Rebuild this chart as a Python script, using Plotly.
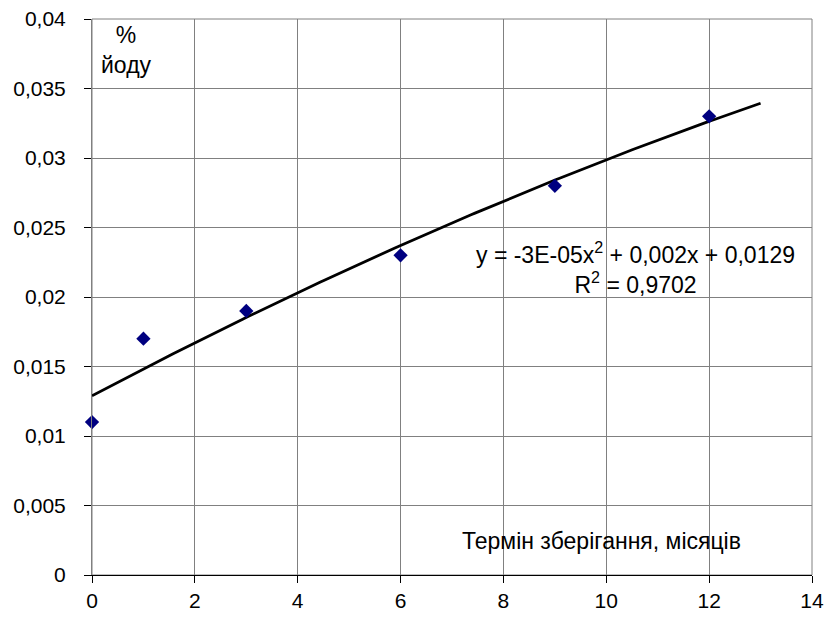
import numpy as np
import plotly.graph_objects as go

months = [0, 1, 3, 6, 9, 12]
iodine = [0.011, 0.017, 0.019, 0.023, 0.028, 0.033]

y_tickvals = [0, 0.005, 0.01, 0.015, 0.02, 0.025, 0.03, 0.035, 0.04]
y_ticktext = ["0", "0,005", "0,01", "0,015", "0,02", "0,025", "0,03", "0,035", "0,04"]
x_tickvals = [0, 2, 4, 6, 8, 10, 12, 14]

# quadratic trendline fitted to the data
coef = np.polyfit(months, iodine, 2)
xt = np.linspace(0, 13, 200)
yt = np.polyval(coef, xt)

fig = go.Figure()
fig.add_trace(go.Scatter(x=xt, y=yt, mode="lines",
                         line=dict(color="black", width=2.8), hoverinfo="skip"))
fig.add_trace(go.Scatter(x=months, y=iodine, mode="markers", cliponaxis=False,
                         marker=dict(symbol="diamond", color="#000080", size=11)))

tfont = dict(family="Liberation Sans, Arial, sans-serif", size=21, color="black")
afont = dict(family="Liberation Sans, Arial, sans-serif", size=23, color="black")

fig.update_layout(
    template="none",
    width=825, height=618,
    margin=dict(l=92, r=13, t=19, b=43, autoexpand=False),
    paper_bgcolor="white", plot_bgcolor="white",
    showlegend=False,
    font=tfont,
    xaxis=dict(range=[0, 14], tickvals=x_tickvals, showgrid=True, automargin=False,
               gridcolor="#808080", gridwidth=1, zeroline=False,
               showline=True, linecolor="black", linewidth=1, mirror=False,
               ticks="outside", ticklen=7, tickcolor="black", tickfont=tfont),
    yaxis=dict(range=[0, 0.04], tickvals=y_tickvals, ticktext=y_ticktext, automargin=False,
               showgrid=True, gridcolor="#808080", gridwidth=1, zeroline=False,
               showline=True, linecolor="#808080", linewidth=1,
               ticks="outside", ticklen=7, tickcolor="black", tickfont=tfont,
               ticklabelstandoff=14),
    shapes=[dict(type="rect", xref="paper", yref="paper", x0=0, y0=0, x1=1, y1=1,
                 line=dict(color="#808080", width=1), layer="below")],
    annotations=[
        dict(x=0.68, y=0.0378, xref="x", yref="y", text="%<br>йоду",
             showarrow=False, xanchor="center", yanchor="middle", align="center", font=afont),
        dict(x=10.56, y=0.0221, xref="x", yref="y",
             text="y = -3E-05x<sup>2</sup> + 0,002x + 0,0129<br>R<sup>2</sup> = 0,9702",
             showarrow=False, xanchor="center", yanchor="middle", align="center", font=afont),
        dict(x=9.9, y=0.00245, xref="x", yref="y",
             text="Термін зберігання, місяців",
             showarrow=False, xanchor="center", yanchor="middle", font=afont),
    ],
)

fig.write_html("out.html", config={"displayModeBar": False},
               post_script="document.body.style.margin='0';document.body.style.overflow='hidden';")
